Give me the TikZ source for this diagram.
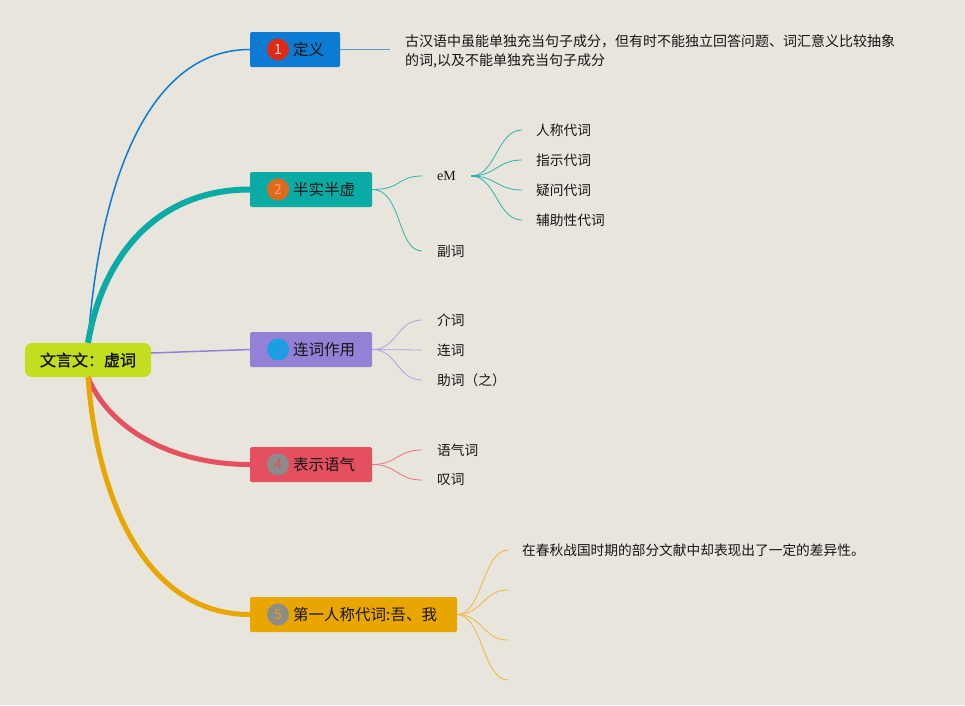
\documentclass[tikz,border=0pt]{standalone}
\usepackage{fontspec}
\setmainfont{Noto Sans CJK SC}
\newfontfamily\rootfont[FakeBold=1.6]{Noto Sans CJK SC}
\newfontfamily\serifm{Liberation Serif}
\definecolor{bg}{HTML}{E8E5DD}
\definecolor{cA}{HTML}{0B7BD3}
\definecolor{cB}{HTML}{0AABA5}
\definecolor{cC}{HTML}{9381D6}
\definecolor{cD}{HTML}{E4505F}
\definecolor{cE}{HTML}{E9A600}
\definecolor{croot}{HTML}{C3DE1F}
\definecolor{lA}{HTML}{5B9BD5}
\definecolor{lB}{HTML}{2FB2AC}
\definecolor{lC}{HTML}{AFA4E0}
\definecolor{lD}{HTML}{E57480}
\definecolor{lE}{HTML}{EDB83C}
\definecolor{txt}{HTML}{151515}
\definecolor{numred}{HTML}{DD2A16}
\definecolor{numorg}{HTML}{E2691C}
\definecolor{numblue}{HTML}{1A9FE2}
\definecolor{numthree}{HTML}{3E8FD8}
\definecolor{numgray}{HTML}{8C8C8C}
\begin{document}
\begin{tikzpicture}[x=1pt,y=-1pt,
  mainbox/.style={rectangle, rounded corners=1.5pt, minimum height=35pt, inner sep=0},
  num/.style={circle, minimum size=22pt, inner sep=0, font=\fontsize{14}{14}\selectfont},
  lab/.style={anchor=west, inner sep=0, text=txt, font=\fontsize{15.5}{16}\selectfont},
  leaf/.style={anchor=west, inner xsep=0, inner ysep=2pt, text=txt, font=\fontsize{13.7}{14}\selectfont},
  sub/.style={line width=0.8pt},
]
\fill[bg] (0,0) rectangle (965,705);
\useasboundingbox (0,0) rectangle (965,705);

% root
\node[mainbox, rounded corners=7pt, fill=croot, minimum width=126pt, minimum height=34pt,
      font=\rootfont\fontsize{16}{16}\selectfont, text=txt] (root) at (88,360) {文言文：虚词};

% main boxes
\node[mainbox, fill=cA, minimum width=90pt] (n1) at (295,49.5) {};
\node[mainbox, fill=cB, minimum width=122pt] (n2) at (311,189.5) {};
\node[mainbox, fill=cC, minimum width=122pt] (n3) at (311,349.5) {};
\node[mainbox, fill=cD, minimum width=122pt] (n4) at (311,464.5) {};
\node[mainbox, fill=cE, minimum width=207pt] (n5) at (353.5,614.5) {};

\node[num, fill=numred, text=white!85!numred] (k1) at (278,49.5) {1};
\node[num, fill=numorg, text=numorg!60!white] (k2) at (278,189.5) {2};
\node[num, fill=numblue, text=numthree] (k3) at (278,349.5) {3};
\node[num, fill=numgray, text=cD] (k4) at (278,464.5) {4};
\node[num, fill=numgray, text=cE] (k5) at (278,614.5) {5};

\node[lab] (t1) at (293,50) {定义};
\node[lab] (t2) at (293,190) {半实半虚};
\node[lab] (t3) at (293,350) {连词作用};
\node[lab] (t4) at (293,465) {表示语气};
\node[lab] (t5) at (293,615) {第一人称代词:吾、我};

% main branches
\draw[cA, line width=1.5pt] (root.north) .. controls +(12,-165) and +(-100,0) .. (n1.west);
\draw[cB, line width=6pt] (root.north) .. controls +(15,-90) and +(-90,0) .. (n2.west);
\draw[cC, line width=1.5pt] ([yshift=7pt]root.east) -- (n3.west);
\draw[cD, line width=5pt] (root.south) .. controls +(20,50) and +(-80,0) .. (n4.west);
\draw[cE, line width=5pt] (root.south) .. controls +(10,130) and +(-100,0) .. (n5.west);

% branch 1
\node[leaf, anchor=north west, align=left, font=\fontsize{14}{19}\selectfont] (def) at (405,32)
  {古汉语中虽能单独充当句子成分，但有时不能独立回答问题、词汇意义比较抽象\\的词,以及不能单独充当句子成分};
\coordinate (d1) at (390,49.5);
\draw[lA, line width=1pt] (n1.east) -- (d1);

% branch 2
\node[leaf, font=\serifm\fontsize{14}{14}\selectfont] (em) at (437,176) {eM};
\node[leaf] (fc) at (437,251) {副词};
\draw[lB, sub] (n2.east) .. controls +(30,0) and +(-25,0) .. ([xshift=-15pt]em.west);
\draw[lB, sub] (n2.east) .. controls +(30,0) and +(-25,0) .. ([xshift=-15pt]fc.west);
\node[leaf] (p1) at (536,130) {人称代词};
\node[leaf] (p2) at (536,160) {指示代词};
\node[leaf] (p3) at (536,190) {疑问代词};
\node[leaf] (p4) at (536,220) {辅助性代词};
\draw[lB, line width=2pt] ([xshift=15pt]em.east) -- ([xshift=22pt]em.east);
\foreach \p in {p1,p2,p3,p4}
  \draw[lB, sub] ([xshift=15pt]em.east) .. controls +(25,0) and +(-25,0) .. ([xshift=-14pt]\p.west);

% branch 3
\node[leaf] (q1) at (437,320) {介词};
\node[leaf] (q2) at (437,350) {连词};
\node[leaf] (q3) at (437,380) {助词（之）};
\foreach \q in {q1,q2,q3}
  \draw[lC, sub] (n3.east) .. controls +(25,0) and +(-25,0) .. ([xshift=-15pt]\q.west);

% branch 4
\node[leaf] (r1) at (437,450) {语气词};
\node[leaf] (r2) at (437,480) {叹词};
\foreach \r in {r1,r2}
  \draw[lD, sub] (n4.east) .. controls +(25,0) and +(-25,0) .. ([xshift=-15pt]\r.west);

% branch 5
\node[leaf] (s1) at (522,550) {在春秋战国时期的部分文献中却表现出了一定的差异性。};
\coordinate (s2) at (508,590);
\coordinate (s3) at (508,640);
\coordinate (s4) at (508,680);
\draw[lE, sub] (n5.east) .. controls +(25,0) and +(-25,0) .. ([xshift=-14pt]s1.west);
\foreach \s in {s2,s3,s4}
  \draw[lE, sub] (n5.east) .. controls +(25,0) and +(-25,0) .. (\s);
\end{tikzpicture}
\end{document}
